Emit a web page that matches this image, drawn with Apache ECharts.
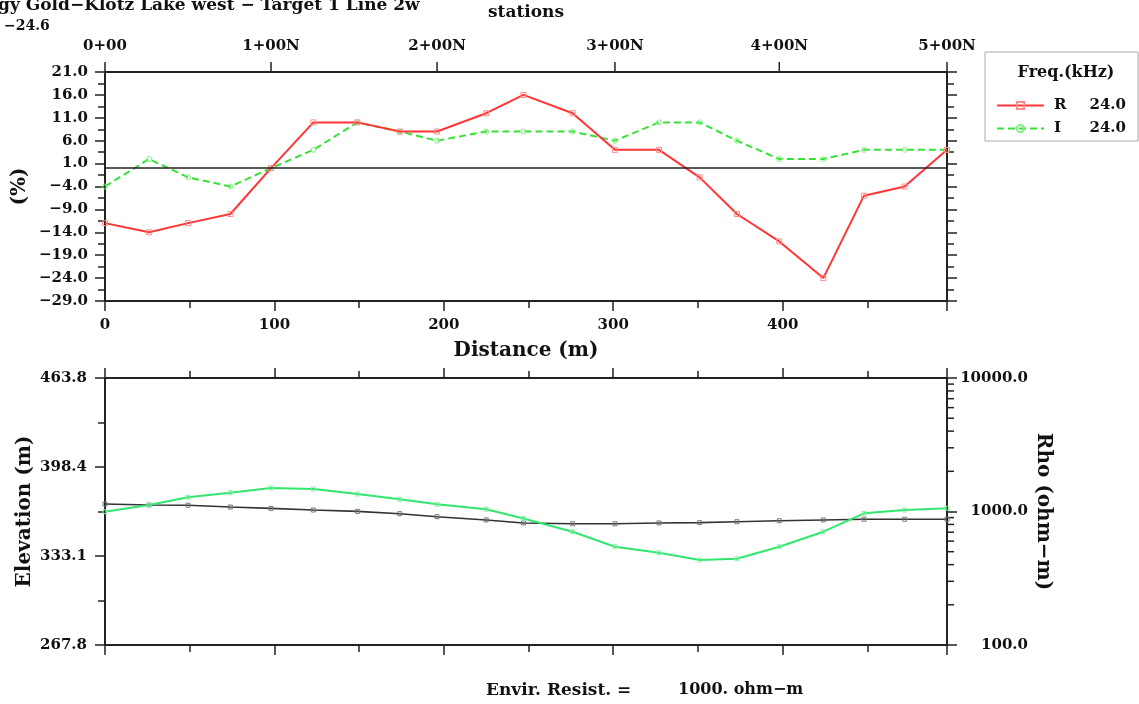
<!DOCTYPE html>
<html><head><meta charset="utf-8">
<script src="https://cdn.jsdelivr.net/npm/echarts@6/dist/echarts.min.js"></script>
<style>html,body{margin:0;padding:0;background:#fff;}#c{width:1139px;height:704px;}</style>
</head><body><div id="c"></div>
<script>
// ---- data ----
const distance = [0, 26, 49, 74, 98, 123, 149, 174, 196, 225, 247, 276, 301, 327, 351, 373, 398, 424, 448, 472, 497];
const rValues = [-12, -14, -12, -10, 0, 10, 10, 8, 8, 12, 16, 12, 4, 4, -2, -10, -16, -24, -6, -4, 4];
const iValues = [-4, 2, -2, -4, 0, 4, 10, 8, 6, 8, 8, 8, 6, 10, 10, 6, 2, 2, 4, 4, 4];
const elevation = [371.3, 370.6, 370.4, 369.1, 368.1, 366.9, 365.9, 364.2, 362.0, 359.6, 357.4, 356.8, 356.8, 357.4, 357.6, 358.3, 359.0, 359.6, 360.1, 360.1, 360.1];
const rho = [997, 1119, 1278, 1383, 1500, 1474, 1352, 1234, 1132, 1039, 886, 706, 545, 491, 433, 443, 545, 706, 969, 1026, 1057];
const stationLabels = ['0+00', '1+00N', '2+00N', '3+00N', '4+00N', '5+00N'];
const stationIdx = [0, 4, 8, 12, 16, 20];
const elevTickLabels = ['267.8', '333.1', '398.4', '463.8'];
const rhoMinorTicks = [200, 300, 400, 500, 600, 700, 800, 900, 2000, 3000, 4000, 5000, 6000, 7000, 8000, 9000];
const freqLabel = '24.0';
const titleText = 'gy Gold-Klotz Lake west - Target 1 Line 2w';
const minLabel = '-24.6';
const envirLabel = 'Envir. Resist. =';
const envirValue = '1000. ohm-m';

const FONT = "'DejaVu Serif', 'Liberation Serif', serif";
const AX = '#222';
const minus = s => s.replace(/-/g, '\u2212');

const lbl = {fontFamily: FONT, fontWeight: 'bold', fontSize: 15, color: '#111'};
const nameStyle = {fontFamily: FONT, fontWeight: 'bold', fontSize: 20, color: '#111'};
const axisLine = () => ({show: true, onZero: false, lineStyle: {color: AX, width: 2}});
const tick = () => ({show: true, length: 10, lineStyle: {color: AX, width: 1.5}});
const minor = () => ({show: true, splitNumber: 2, length: 7, lineStyle: {color: AX, width: 1.5}});
const xMax = distance[distance.length - 1];

const chart = echarts.init(document.getElementById('c'), null, {renderer: 'canvas'});
const option = {
  animation: false,
  backgroundColor: '#fff',
  grid: [
    {left: 105, right: 192, top: 72, height: 229},
    {left: 105, right: 192, top: 378, height: 267}
  ],
  title: {
    text: 'Freq.(kHz)', left: 1061, top: 60, textAlign: 'center',
    textStyle: {fontFamily: FONT, fontWeight: 'bold', fontSize: 16, color: '#111'}
  },
  legend: {
    data: ['R', 'I'], orient: 'vertical', left: 985, top: 52,
    padding: [46, 12, 5, 11], itemGap: 8, itemWidth: 47, itemHeight: 9,
    borderColor: '#aaa', borderWidth: 1, backgroundColor: '#fff',
    formatter: n => '{a|' + n + '}{b|' + freqLabel + '}',
    textStyle: {
      fontFamily: FONT, fontWeight: 'bold', fontSize: 15, color: '#111',
      rich: {
        a: {fontFamily: FONT, fontWeight: 'bold', fontSize: 15, width: 37, padding: [0, 0, 0, 5]},
        b: {fontFamily: FONT, fontWeight: 'bold', fontSize: 15, width: 35, align: 'right'}
      }
    }
  },
  xAxis: [
    {gridIndex: 0, type: 'value', position: 'bottom', min: 0, max: xMax, interval: 100,
     axisLine: axisLine(), axisTick: tick(), minorTick: minor(), splitLine: {show: false},
     axisLabel: Object.assign({margin: 17, showMaxLabel: false}, lbl),
     name: 'Distance (m)', nameLocation: 'middle', nameGap: 40, nameTextStyle: nameStyle},
    {gridIndex: 0, type: 'value', position: 'top', min: 0, max: xMax,
     axisLine: axisLine(), axisTick: {show: false}, axisLabel: {show: false}, splitLine: {show: false},
     name: 'stations', nameLocation: 'middle', nameGap: 51,
     nameTextStyle: {fontFamily: FONT, fontWeight: 'bold', fontSize: 17, color: '#111'}},
    {gridIndex: 1, type: 'value', position: 'bottom', min: 0, max: xMax, interval: 100,
     axisLine: axisLine(), axisTick: tick(), minorTick: minor(), splitLine: {show: false}, axisLabel: {show: false}},
    {gridIndex: 1, type: 'value', position: 'top', min: 0, max: xMax, interval: 100,
     axisLine: axisLine(), axisTick: tick(), minorTick: minor(), splitLine: {show: false}, axisLabel: {show: false}}
  ],
  yAxis: [
    {gridIndex: 0, type: 'value', position: 'left', min: -29, max: 21, interval: 5,
     axisLine: axisLine(), axisTick: tick(), minorTick: minor(), splitLine: {show: false},
     axisLabel: Object.assign({margin: 17, formatter: v => minus(v.toFixed(1))}, lbl),
     name: '(%)', nameLocation: 'middle', nameGap: 75, nameRotate: 90, nameMoveOverlap: false, nameTextStyle: nameStyle},
    {gridIndex: 0, type: 'value', position: 'right', min: -29, max: 21, interval: 5,
     axisLine: axisLine(), axisTick: tick(), minorTick: minor(), splitLine: {show: false}, axisLabel: {show: false}},
    {gridIndex: 1, type: 'value', position: 'left', min: 267.8, max: 463.8, interval: (463.8 - 267.8) / 3,
     axisLine: axisLine(), axisTick: tick(), minorTick: minor(), splitLine: {show: false},
     axisLabel: Object.assign({margin: 18, formatter: v => {
       let best = 0, bd = Infinity;
       elevTickLabels.forEach((t, i) => { const d = Math.abs(parseFloat(t) - v); if (d < bd) { bd = d; best = i; } });
       return elevTickLabels[best];
     }}, lbl),
     name: 'Elevation (m)', nameLocation: 'middle', nameGap: 70, nameRotate: 90, nameMoveOverlap: false, nameTextStyle: nameStyle},
    {gridIndex: 1, type: 'log', logBase: 10, position: 'right', min: 100, max: 10000,
     axisLine: axisLine(), axisTick: tick(), splitLine: {show: false},
     axisLabel: Object.assign({margin: 81, align: 'right', formatter: v => v.toFixed(1)}, lbl),
     name: 'Rho (ohm\u2212m)', nameLocation: 'middle', nameGap: 86, nameRotate: -90, nameMoveOverlap: false, nameTextStyle: nameStyle}
  ],
  graphic: [
    {type: 'text', left: -2, top: -3, style: {text: minus(titleText), font: 'bold 17px ' + FONT, fill: '#111'}},
    {type: 'text', left: 4, top: 19, style: {text: minus(minLabel), font: 'bold 14px ' + FONT, fill: '#111'}},
    {type: 'text', left: 486, top: 682, style: {text: envirLabel, font: 'bold 17px ' + FONT, fill: '#111'}},
    {type: 'text', left: 678, top: 682, style: {text: minus(envirValue), font: 'bold 16px ' + FONT, fill: '#111'}}
  ],
  series: [
    {name: 'R', type: 'line', xAxisIndex: 0, yAxisIndex: 0,
     data: distance.map((d, i) => [d, rValues[i]]),
     symbol: 'rect', symbolSize: 5, color: '#ff3535',
     lineStyle: {color: '#ff3535', width: 2}, itemStyle: {color: 'rgba(255,255,255,0)', borderColor: '#ff8a8a', borderWidth: 1},
     markLine: {silent: true, symbol: 'none', label: {show: false},
       lineStyle: {color: '#222', width: 1.5, type: 'solid'}, data: [{yAxis: 0}]},
     z: 3},
    {name: 'I', type: 'line', xAxisIndex: 0, yAxisIndex: 0,
     data: distance.map((d, i) => [d, iValues[i]]),
     symbol: 'circle', symbolSize: 5, color: '#38e038',
     lineStyle: {color: '#38e038', width: 2, type: [7, 4]}, itemStyle: {color: 'rgba(255,255,255,0)', borderColor: '#80f080', borderWidth: 1},
     z: 2},
    {name: 'Elevation', type: 'line', xAxisIndex: 2, yAxisIndex: 2,
     data: distance.map((d, i) => [d, elevation[i]]),
     symbol: 'rect', symbolSize: 4, color: '#333',
     lineStyle: {color: '#333', width: 1.6}, itemStyle: {color: 'rgba(255,255,255,0)', borderColor: '#777', borderWidth: 1}},
    {name: 'Rho', type: 'line', xAxisIndex: 2, yAxisIndex: 3,
     data: distance.map((d, i) => [d, rho[i]]),
     symbol: 'rect', symbolSize: 4, color: '#33e66e',
     lineStyle: {color: '#33e66e', width: 2}, itemStyle: {color: 'rgba(255,255,255,0)', borderColor: '#88f0aa', borderWidth: 1}},
    {name: 'stationAxis', type: 'custom', xAxisIndex: 1, yAxisIndex: 0, clip: false, silent: true,
     data: stationIdx.map((k, i) => [distance[k], i]),
     renderItem: (params, api) => {
       const x = api.coord([api.value(0), 0])[0];
       const top = params.coordSys.y;
       return {type: 'group', children: [
         {type: 'line', shape: {x1: x, y1: top, x2: x, y2: top - 10}, style: {stroke: AX, lineWidth: 1.5}},
         {type: 'text', x: x, y: top - 26, style: {text: stationLabels[api.value(1)], align: 'center', verticalAlign: 'middle', font: 'bold 15px ' + FONT, fill: '#111'}}
       ]};
     }},
    {name: 'rhoMinor', type: 'custom', xAxisIndex: 2, yAxisIndex: 3, clip: false, silent: true,
     data: rhoMinorTicks.map(v => [0, v]),
     renderItem: (params, api) => {
       const y = api.coord([0, api.value(1)])[1];
       const x = params.coordSys.x + params.coordSys.width;
       return {type: 'line', shape: {x1: x, y1: y, x2: x + 7, y2: y}, style: {stroke: AX, lineWidth: 1.5}};
     }}
  ]
};
chart.setOption(option);
</script></body></html>
